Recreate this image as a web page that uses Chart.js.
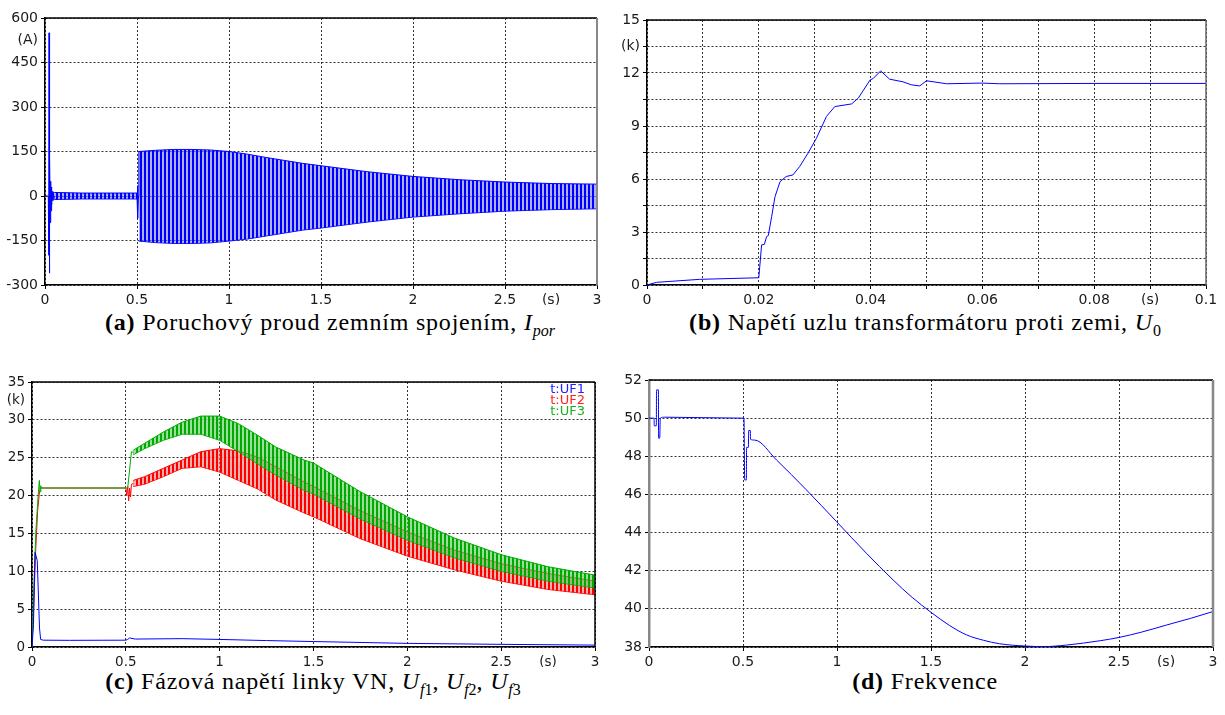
<!DOCTYPE html>
<html>
<head>
<meta charset="utf-8">
<script src="https://cdn.jsdelivr.net/npm/chart.js@4.4.1/dist/chart.umd.min.js"></script>
<style>
  body { margin: 0; background: #fff; width: 1225px; height: 715px; overflow: hidden; position: relative; }
  canvas { position: absolute; }
  .cap { position: absolute; width: 700px; text-align: center; font-family: 'Liberation Serif', 'DejaVu Serif', serif; font-size: 24px; letter-spacing: 0.8px; line-height: 28px; color: #000; white-space: nowrap; }
  .cap sub { font-size: 16px; line-height: 0; letter-spacing: 0; }
</style>
</head>
<body>
<canvas id="chartA" width="612" height="305" style="left:0;top:0"></canvas>
<canvas id="chartB" width="613" height="305" style="left:612px;top:0"></canvas>
<canvas id="chartC" width="612" height="307" style="left:0;top:360px"></canvas>
<canvas id="chartD" width="613" height="307" style="left:612px;top:360px"></canvas>

<div class="cap" style="left:-20px;top:308px"><b>(a)</b> Poruchový proud zemním spojením, <i>I<sub>por</sub></i></div>
<div class="cap" style="left:575px;top:308px"><b>(b)</b> Napětí uzlu transformátoru proti zemi, <i>U</i><sub>0</sub></div>
<div class="cap" style="left:-37px;top:667px"><b>(c)</b> Fázová napětí linky VN, <i>U</i><sub><i>f</i>1</sub>, <i>U</i><sub><i>f</i>2</sub>, <i>U</i><sub><i>f</i>3</sub></div>
<div class="cap" style="left:575px;top:667px"><b>(d)</b> Frekvence</div>

<script>
// ---- (a) fault current I_por, A ----
// switching transient around 0.02 s
let spikeTime = [0, 0.018, 0.02, 0.021, 0.022, 0.023, 0.024, 0.025, 0.027, 0.029, 0.031, 0.033, 0.035, 0.037, 0.04, 0.043, 0.046, 0.05];
let spikeCurr = [0, 0, -200, 0, 550, 350, -100, -260, 130, -90, 50, -50, 30, -30, 15, -15, 12, -10];
// small oscillation before the earth fault (envelope)
let preTime = [0.05, 0.2, 0.5];
let preUpper = [12, 10, 10];
let preLower = [-12, -10, -10];
// fault inception at 0.5 s
let faultTime = [0.5, 0.502, 0.505, 0.508, 0.51];
let faultCurr = [0, 35, -75, 0, 150];
// envelope of the 50 Hz fault current
let bandTimeA = [0.51, 0.6, 0.7, 0.8, 0.9, 1.0, 1.1, 1.2, 1.3, 1.4, 1.5, 1.75, 2.0, 2.25, 2.5, 2.75, 3.0];
let bandUpperA = [150, 154, 157, 157, 155, 150, 141, 130, 120, 110, 102, 82, 66, 55, 47, 42, 40];
let bandLowerA = [-152, -157, -160, -160, -158, -152, -145, -135, -125, -115, -108, -88, -71, -60, -51, -46, -43];

// ---- (b) neutral point voltage U0, kV ----
let timeB = [0, 0.0017, 0.0094, 0.02, 0.0205, 0.021, 0.0214, 0.0217, 0.0223, 0.0229, 0.0238, 0.0249, 0.0261, 0.0273, 0.0288, 0.0303, 0.0321, 0.0336, 0.0366, 0.0378, 0.0399, 0.0405, 0.0418, 0.0434, 0.0458, 0.0473, 0.0488, 0.05, 0.0536, 0.06, 0.0631, 0.08, 0.1];
let voltB = [0, 0.15, 0.32, 0.41, 2.27, 2.3, 2.74, 2.8, 3.87, 5.0, 5.85, 6.14, 6.23, 6.7, 7.46, 8.3, 9.54, 10.1, 10.25, 10.58, 11.6, 11.7, 12.12, 11.65, 11.5, 11.33, 11.27, 11.56, 11.39, 11.43, 11.39, 11.41, 11.41];

// ---- (c) phase voltages, kV ----
let seriesNamesC = ['t:UF1', 't:UF2', 't:UF3'];
let timeUF1 = [0, 0.008, 0.012, 0.016, 0.022, 0.028, 0.034, 0.04, 0.046, 0.06, 0.2, 0.5, 0.51, 0.52, 0.55, 0.8, 1.0, 1.25, 1.5, 2.0, 2.5, 3.0];
let voltUF1 = [0, 3, 8, 12.5, 12, 11.4, 7, 2.5, 1.0, 0.9, 0.88, 0.9, 1.0, 1.2, 1.05, 1.1, 1.0, 0.85, 0.72, 0.48, 0.35, 0.25];
let timeUF2 = [0, 0.01, 0.02, 0.03, 0.04, 0.045, 0.06, 0.5, 0.505, 0.51, 0.515, 0.52, 0.525, 0.53, 0.54];
let voltUF2 = [0, 6, 13, 18, 20.5, 21, 21, 21, 20, 21.2, 19.3, 21, 19.8, 21.5, 21.6];
let timeUF3 = [0, 0.01, 0.02, 0.03, 0.039, 0.043, 0.047, 0.05, 0.06, 0.5, 0.51, 0.53, 0.54];
let voltUF3 = [0, 8, 15, 19, 22, 20.5, 21.3, 21, 21, 21, 21, 25.8, 25.7];
let bandTimeC = [0.54, 0.6, 0.7, 0.8, 0.9, 1.0, 1.1, 1.2, 1.3, 1.45, 1.5, 1.75, 2.0, 2.25, 2.5, 2.75, 3.0];
let upperUF2 = [22, 22.5, 23.6, 24.7, 25.8, 26.2, 25.9, 25.1, 23.8, 21.8, 21.2, 18.0, 15.2, 12.8, 11.0, 9.7, 8.7];
let lowerUF2 = [21.2, 21.5, 22.5, 23.6, 23.8, 23.1, 22.0, 20.9, 19.4, 17.7, 17.2, 14.3, 12.0, 10.2, 8.7, 7.6, 6.9];
let upperUF3 = [26, 26.9, 28.4, 29.7, 30.5, 30.5, 29.5, 28, 26.4, 24.7, 24.3, 20.5, 17.2, 14.4, 12.2, 10.6, 9.5];
let lowerUF3 = [25.4, 26.2, 27.3, 28.1, 28.1, 27.3, 25.8, 24.2, 22.7, 20.7, 20.2, 16.9, 14.1, 11.8, 10.0, 8.7, 7.8];

// ---- (d) frequency, Hz ----
let timeD = [0, 0.027, 0.028, 0.039, 0.04, 0.05, 0.051, 0.057, 0.06, 0.083, 0.5, 0.505, 0.509, 0.518, 0.519, 0.529, 0.53, 0.539, 0.54, 0.562, 0.678, 0.837, 0.997, 1.156, 1.298, 1.4, 1.5, 1.6, 1.688, 1.78, 1.865, 2.0, 2.1, 2.22, 2.4, 2.5, 2.62, 2.752, 2.88, 3.0];
let freqD = [50, 50, 49.6, 49.6, 51.48, 51.48, 48.95, 48.95, 50, 50.05, 50, 50, 46.76, 46.76, 48.47, 48.47, 49.35, 49.35, 48.89, 48.85, 47.81, 46.24, 44.58, 42.92, 41.52, 40.6, 39.82, 39.12, 38.64, 38.35, 38.17, 38.05, 38.02, 38.1, 38.33, 38.5, 38.78, 39.15, 39.5, 39.86];

const BLUE = '#0000ff';
const RED = '#ff0000';
const GREEN = '#00aa00';
const GRID = '#333';

function pts(xs, ys) {
  return xs.map((x, i) => ({ x: x, y: ys[i] }));
}

function onStep(v, step) {
  const k = v / step;
  return Math.abs(k - Math.round(k)) < 1e-6;
}

// vertical stripes to mimic the dense 50 Hz oscillation
function stripes(ctx, dark, light) {
  const c = document.createElement('canvas');
  c.width = 4; c.height = 4;
  const g = c.getContext('2d');
  g.fillStyle = light; g.fillRect(0, 0, 4, 4);
  g.fillStyle = dark; g.fillRect(0, 0, 2, 4);
  return ctx.createPattern(c, 'repeat');
}

function axis(o) {
  return {
    type: 'linear',
    min: o.min, max: o.max,
    afterFit: o.size,
    border: { display: true, color: o.borderColor || '#000', width: o.borderWidth || 1.5, dash: [2, 2] },
    grid: {
      color: ctx => onStep(ctx.tick.value, o.gridStep) ? GRID : 'rgba(0,0,0,0)',
      tickColor: ctx => onStep(ctx.tick.value, o.gridStep) ? '#000' : 'rgba(0,0,0,0)',
      lineWidth: 1,
      tickLength: 4
    },
    ticks: {
      stepSize: o.step,
      autoSkip: false,
      maxRotation: 0,
      padding: 3,
      color: '#1a1a1a',
      font: { family: "'DejaVu Sans', Verdana, sans-serif", size: o.fontSize || 14 },
      callback: function (v) {
        if (o.unitAt !== undefined && Math.abs(v - o.unitAt) < 1e-9) return o.unit;
        if (onStep(v, o.labelStep)) return String(Number(v.toFixed(4)));
        return '';
      }
    }
  };
}

const framePlugin = {
  id: 'frame',
  afterDraw(chart, args, opts) {
    const a = chart.chartArea, ctx = chart.ctx;
    ctx.save();
    ctx.lineWidth = 1.5;
    ctx.strokeStyle = opts.top || '#000';
    ctx.beginPath(); ctx.moveTo(a.left, a.top); ctx.lineTo(a.right, a.top); ctx.stroke();
    ctx.lineWidth = opts.rightWidth || 1.5;
    ctx.strokeStyle = opts.right || '#000';
    ctx.beginPath(); ctx.moveTo(a.right, a.top); ctx.lineTo(a.right, a.bottom); ctx.stroke();
    ctx.restore();
  }
};

function line(data, color, extra) {
  return Object.assign({ data: data, borderColor: color, borderWidth: 1, pointRadius: 0, tension: 0, fill: false }, extra || {});
}

function baseOptions(pad, xAxis, yAxis, frame) {
  return {
    responsive: false,
    animation: false,
    devicePixelRatio: 1,
    layout: { padding: pad },
    events: [],
    plugins: { legend: { display: false }, tooltip: { enabled: false }, frame: frame },
    scales: { x: xAxis, y: yAxis }
  };
}

// ---------- (a) ----------
const ctxA = document.getElementById('chartA').getContext('2d');
const stripeBlue = stripes(ctxA, BLUE, 'rgba(110,110,255,0.55)');
new Chart(ctxA, {
  type: 'line',
  data: {
    datasets: [
      line(pts(spikeTime, spikeCurr), BLUE),
      line(pts(preTime, preUpper), BLUE, { fill: { target: 2 }, backgroundColor: stripeBlue }),
      line(pts(preTime, preLower), BLUE),
      line(pts(faultTime, faultCurr), BLUE),
      line(pts(bandTimeA, bandUpperA), BLUE, { fill: { target: 5 }, backgroundColor: stripeBlue }),
      line(pts(bandTimeA, bandLowerA), BLUE)
    ]
  },
  options: baseOptions({ left: 0, right: 15, top: 18, bottom: 0 },
    axis({ min: 0, max: 3, step: 0.25, labelStep: 0.5, gridStep: 0.5, unitAt: 2.75, unit: '(s)', size: s => { s.height = 20; } }),
    axis({ min: -300, max: 600, step: 75, labelStep: 150, gridStep: 150, unitAt: 525, unit: '(A)', size: s => { s.width = 45; } }),
    { top: '#000', right: '#888', rightWidth: 2 }),
  plugins: [framePlugin]
});

// ---------- (b) ----------
new Chart(document.getElementById('chartB'), {
  type: 'line',
  data: { datasets: [line(pts(timeB, voltB), BLUE)] },
  options: baseOptions({ left: 0, right: 19, top: 20, bottom: 0 },
    axis({ min: 0, max: 0.1, step: 0.01, labelStep: 0.02, gridStep: 0.01, unitAt: 0.09, unit: '(s)', size: s => { s.height = 20; } }),
    axis({ min: 0, max: 15, step: 1.5, labelStep: 3, gridStep: 1.5, unitAt: 13.5, unit: '(k)', size: s => { s.width = 35; } }),
    { top: '#000', right: '#666' }),
  plugins: [framePlugin]
});

// ---------- (c) ----------
const ctxC = document.getElementById('chartC').getContext('2d');
const stripeRed = stripes(ctxC, RED, 'rgba(255,120,120,0.6)');
const stripeGreen = stripes(ctxC, GREEN, 'rgba(90,200,90,0.6)');
const legendColors = ['#2222ff', '#ff2222', '#22aa22'];
const legendC = {
  id: 'legendC',
  afterDraw(chart) {
    const a = chart.chartArea, ctx = chart.ctx;
    ctx.save();
    ctx.font = "13px 'DejaVu Sans', sans-serif";
    ctx.textAlign = 'right';
    ctx.textBaseline = 'middle';
    seriesNamesC.forEach((name, i) => {
      ctx.fillStyle = legendColors[i];
      ctx.fillText(name, a.right - 10, a.top + 7.5 + i * 11.3);
    });
    ctx.restore();
  }
};
new Chart(ctxC, {
  type: 'line',
  data: {
    datasets: [
      line(pts(timeUF1, voltUF1), BLUE, { order: 0 }),
      line(pts(timeUF3, voltUF3), GREEN, { order: 1 }),
      line(pts(bandTimeC, upperUF3), GREEN, { order: 1, fill: { target: 3 }, backgroundColor: stripeGreen }),
      line(pts(bandTimeC, lowerUF3), GREEN, { order: 1 }),
      line(pts(timeUF2, voltUF2), RED, { order: 2 }),
      line(pts(bandTimeC, upperUF2), RED, { order: 2, fill: { target: 6 }, backgroundColor: stripeRed }),
      line(pts(bandTimeC, lowerUF2), RED, { order: 2 })
    ]
  },
  options: baseOptions({ left: 0, right: 17, top: 22, bottom: 0 },
    axis({ min: 0, max: 3, step: 0.25, labelStep: 0.5, gridStep: 0.5, unitAt: 2.75, unit: '(s)', fontSize: 13.5, size: s => { s.height = 20; } }),
    axis({ min: 0, max: 35, step: 2.5, labelStep: 5, gridStep: 5, unitAt: 32.5, unit: '(k)', fontSize: 13.5, size: s => { s.width = 32; } }),
    { top: '#000', right: '#000' }),
  plugins: [framePlugin, legendC]
});

// ---------- (d) ----------
new Chart(document.getElementById('chartD'), {
  type: 'line',
  data: { datasets: [line(pts(timeD, freqD), BLUE, { cubicInterpolationMode: 'monotone' })] },
  options: baseOptions({ left: 0, right: 12, top: 20, bottom: 0 },
    axis({ min: 0, max: 3, step: 0.25, labelStep: 0.5, gridStep: 0.5, unitAt: 2.75, unit: '(s)', size: s => { s.height = 20; } }),
    axis({ min: 38, max: 52, step: 2, labelStep: 2, gridStep: 2, borderColor: '#888', borderWidth: 2.5, size: s => { s.width = 37; } }),
    { top: '#000', right: '#888', rightWidth: 2.5 }),
  plugins: [framePlugin]
});
</script>
</body>
</html>
